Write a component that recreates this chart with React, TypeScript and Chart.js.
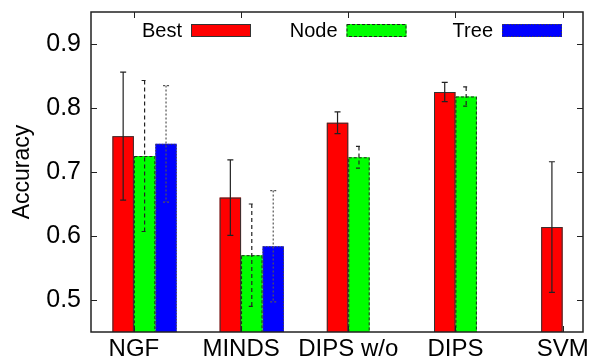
import { useEffect, useRef } from "react";
import { Chart, registerables } from "chart.js";

Chart.register(...registerables);

// Data: mean accuracy and standard deviation per method and feature set
const categories = ["NGF", "MINDS", "DIPS w/o", "DIPS", "SVM"];
const seriesNames = ["Best", "Node", "Tree"];
const bestMean = [0.756, 0.66, 0.777, 0.825, 0.614];
const bestErr = [0.1, 0.059, 0.017, 0.015, 0.102];
const nodeMean = [0.725, 0.57, 0.723, 0.818, null];
const nodeErr = [0.118, 0.08, 0.017, 0.015, null];
const treeMean = [0.744, 0.584, null, null, null];
const treeErr = [0.091, 0.087, null, null, null];
const yTicks = [0.5, 0.6, 0.7, 0.8, 0.9];

const FONT = "'Liberation Sans', Arial, Helvetica, sans-serif";

// Bar clusters sit slightly right of the category tick (tick falls between 1st and 2nd bar)
const GROUP_SHIFT = 0.1;

const styles = [
  { fill: "#ff0000", edge: "#333", edgeDash: [] as number[], err: "#222", errDash: [] as number[] },
  { fill: "#00ff00", edge: "#222", edgeDash: [3, 2], err: "#222", errDash: [4, 3] },
  { fill: "#0000ff", edge: "#444", edgeDash: [1.5, 1.5], err: "#555", errDash: [2, 2] },
];

const means = [bestMean, nodeMean, treeMean];
const errs = [bestErr, nodeErr, treeErr];

const decorPlugin = {
  id: "decor",
  afterDatasetsDraw(chart: any) {
    const { ctx, chartArea } = chart;
    const yScale = chart.scales.y;
    ctx.save();
    ctx.beginPath();
    ctx.rect(chartArea.left, chartArea.top, chartArea.right - chartArea.left, chartArea.bottom - chartArea.top);
    ctx.clip();
    chart.data.datasets.forEach((_ds: any, di: number) => {
      const meta = chart.getDatasetMeta(di);
      const st = styles[di];
      meta.data.forEach((el: any, i: number) => {
        const m = means[di][i];
        if (m == null) return;
        const { x, y, base, width } = el.getProps(["x", "y", "base", "width"], true);
        // bar outline
        ctx.strokeStyle = st.edge;
        ctx.lineWidth = 1;
        ctx.setLineDash(st.edgeDash);
        const bottom = Math.min(base, chartArea.bottom + 2);
        ctx.strokeRect(x - width / 2 + 0.5, y + 0.5, width - 1, bottom - y);
        // error bar
        const e = errs[di][i];
        if (e == null) return;
        const yHi = yScale.getPixelForValue(m + e);
        const yLo = yScale.getPixelForValue(m - e);
        ctx.strokeStyle = st.err;
        ctx.lineWidth = 1.2;
        ctx.setLineDash(st.errDash);
        ctx.beginPath();
        ctx.moveTo(x, yHi);
        ctx.lineTo(x, yLo);
        ctx.moveTo(x - 3, yHi);
        ctx.lineTo(x + 3, yHi);
        ctx.moveTo(x - 3, yLo);
        ctx.lineTo(x + 3, yLo);
        ctx.stroke();
      });
    });
    ctx.restore();
  },
  afterDraw(chart: any) {
    const { ctx, chartArea } = chart;
    const { left, right, top, bottom } = chartArea;
    const xScale = chart.scales.x;
    const yScale = chart.scales.y;
    ctx.save();
    ctx.setLineDash([]);
    ctx.strokeStyle = "#222";
    ctx.lineWidth = 1.5;
    ctx.strokeRect(left, top, right - left, bottom - top);
    // inward tick marks on all four sides
    ctx.lineWidth = 1;
    ctx.beginPath();
    yScale.ticks.forEach((t: any) => {
      const py = Math.round(yScale.getPixelForValue(t.value)) + 0.5;
      ctx.moveTo(left, py);
      ctx.lineTo(left + 6, py);
      ctx.moveTo(right, py);
      ctx.lineTo(right - 6, py);
    });
    xScale.ticks.forEach((t: any) => {
      const px = Math.round(xScale.getPixelForValue(t.value)) + 0.5;
      ctx.moveTo(px, top);
      ctx.lineTo(px, top + 6);
      ctx.moveTo(px, bottom);
      ctx.lineTo(px, bottom - 6);
    });
    ctx.stroke();

    // key: label followed by a swatch, inside the top of the plot
    const swW = 60;
    const swH = 13;
    const spacing = 155.5;
    const cy = top + 18.5;
    ctx.font = `20px ${FONT}`;
    ctx.fillStyle = "#000";
    ctx.textAlign = "right";
    ctx.textBaseline = "middle";
    seriesNames.forEach((name, i) => {
      const swRight = right - 21 - (seriesNames.length - 1 - i) * spacing;
      const swLeft = swRight - swW;
      const st = styles[i];
      ctx.fillStyle = st.fill;
      ctx.fillRect(swLeft, cy - swH / 2, swW, swH);
      ctx.strokeStyle = st.edge;
      ctx.lineWidth = 1;
      ctx.setLineDash(st.edgeDash);
      ctx.strokeRect(swLeft + 0.5, cy - swH / 2 + 0.5, swW - 1, swH - 1);
      ctx.setLineDash([]);
      ctx.fillStyle = "#000";
      ctx.fillText(name, swLeft - 9, cy + 1);
    });
    ctx.restore();
  },
};

export default function App() {
  const canvasRef = useRef<HTMLCanvasElement | null>(null);

  useEffect(() => {
    const canvas = canvasRef.current;
    if (!canvas) return;
    Chart.defaults.font.family = FONT;
    Chart.defaults.color = "#000";

    const datasets = seriesNames.map((name, di) => ({
      label: name,
      data: categories.map((_, i) => ({ x: i + GROUP_SHIFT, y: means[di][i] })),
      backgroundColor: styles[di].fill,
      borderWidth: 0,
      categoryPercentage: 0.6,
      barPercentage: 1,
    }));

    const chart = new Chart(canvas, {
      type: "bar",
      data: { datasets },
      plugins: [decorPlugin],
      options: {
        animation: false,
        responsive: false,
        devicePixelRatio: 1,
        layout: { padding: { top: 12, right: 6, left: 0, bottom: 0 } },
        plugins: { legend: { display: false }, tooltip: { enabled: false } },
        scales: {
          x: {
            type: "linear",
            min: -0.4,
            max: 4.19,
            offset: false,
            grid: { display: false, drawTicks: false },
            border: { display: false },
            afterBuildTicks(scale: any) {
              scale.ticks = categories.map((_, i) => ({ value: i }));
            },
            ticks: {
              autoSkip: false,
              maxRotation: 0,
              minRotation: 0,
              padding: 3,
              font: { size: 24 },
              color: "#000",
              callback: (_v: any, i: number) => categories[i],
            },
            afterFit(scale: any) {
              scale.height = 26;
              scale.paddingLeft = 0;
              scale.paddingRight = 0;
            },
          },
          y: {
            type: "linear",
            min: 0.45,
            max: 0.95,
            grid: { display: false, drawTicks: false },
            border: { display: false },
            afterBuildTicks(scale: any) {
              scale.ticks = yTicks.map((v) => ({ value: v }));
            },
            ticks: {
              padding: 10,
              font: { size: 25 },
              color: "#000",
              callback: (v: any) => Number(v).toFixed(1),
            },
            title: {
              display: true,
              text: "Accuracy",
              font: { size: 23 },
              color: "#000",
              padding: { top: 9, bottom: 0 },
            },
            afterFit(scale: any) {
              scale.width = 91;
              scale.paddingTop = 0;
              scale.paddingBottom = 0;
            },
          },
        },
      },
    } as any);

    return () => chart.destroy();
  }, []);

  return (
    <div style={{ position: "fixed", left: 0, top: 0, width: 589, height: 358, background: "#fff" }}>
      <canvas ref={canvasRef} width={589} height={358} style={{ display: "block" }} />
    </div>
  );
}
